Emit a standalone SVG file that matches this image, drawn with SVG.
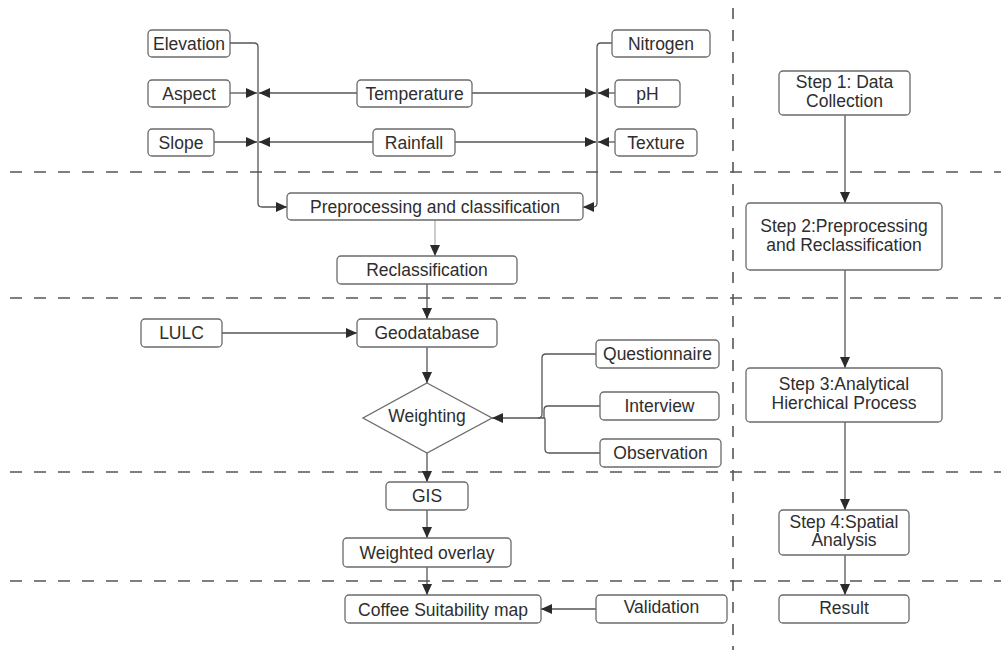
<svg xmlns="http://www.w3.org/2000/svg" width="1001" height="650" viewBox="0 0 1001 650">
<style>
.box{fill:#fff;stroke:#6b6b6b;stroke-width:1.3}
.t{font-family:"Liberation Sans",Arial,sans-serif;font-size:17.5px;fill:#2e2e2e;text-anchor:middle;dominant-baseline:central}
.c{fill:none;stroke:#555;stroke-width:1.3}
.a{marker-end:url(#ah)}
.sep{stroke:#555;stroke-width:1.6;stroke-dasharray:12 12;fill:none}
</style>
<defs>
<marker id="ah" markerUnits="userSpaceOnUse" markerWidth="12" markerHeight="10" refX="11" refY="5" orient="auto">
<path d="M0,0 L11,5 L0,10 Z" fill="#2b2b2b"/>
</marker>
</defs>
<rect width="1001" height="650" fill="#fff"/>
<g id="separators">
<line class="sep" x1="10" y1="172" x2="1001" y2="172"/>
<line class="sep" x1="10" y1="298" x2="1001" y2="298"/>
<line class="sep" x1="10" y1="472" x2="1001" y2="472"/>
<line class="sep" x1="10" y1="581" x2="1001" y2="581"/>
<line class="sep" x1="733" y1="8" x2="733" y2="650" style="stroke-dasharray:11 11"/>
</g>
<g id="connectors">
<path class="c a" d="M230,43 H254 Q258,43 258,47 V203 Q258,207 262,207 H287"/>
<path class="c a" d="M612,43 H601 Q597,43 597,47 V203 Q597,207 593,207 H583"/>
<path class="c a" d="M230,93 H257"/>
<path class="c a" d="M357,93 H259"/>
<path class="c a" d="M214,142 H257"/>
<path class="c a" d="M373,142 H259"/>
<path class="c a" d="M472,93 H596"/>
<path class="c a" d="M615,93 H598"/>
<path class="c a" d="M455,142 H596"/>
<path class="c a" d="M615,142 H598"/>
<path class="c a" d="M435,220 V256" style="stroke:#999;stroke-width:1"/>
<path class="c a" d="M427,284 V319"/>
<path class="c a" d="M222,333 H357"/>
<path class="c a" d="M427,347 V383"/>
<path class="c" d="M596,354 H546 Q542,354 542,358 V414 Q542,418 538,418"/>
<path class="c" d="M600,406 H548 Q544,406 544,410 V418"/>
<path class="c" d="M600,453 H549 Q545,453 545,449 V418"/>
<path class="c a" d="M545,418 H492"/>
<path class="c a" d="M427,453 V482"/>
<path class="c a" d="M427,510 V538"/>
<path class="c a" d="M427,567 V595"/>
<path class="c a" d="M596,609 H541"/>
<path class="c a" d="M845,115 V203"/>
<path class="c a" d="M845,270 V368"/>
<path class="c a" d="M845,422 V510"/>
<path class="c a" d="M845,555 V595"/>
</g>
<g id="elevation"><rect class="box" x="148" y="30" width="82" height="27" rx="4"/><text class="t" x="189" y="44">Elevation</text></g>
<g id="aspect"><rect class="box" x="148" y="80" width="82" height="27" rx="4"/><text class="t" x="189" y="94">Aspect</text></g>
<g id="slope"><rect class="box" x="148" y="129" width="66" height="27" rx="4"/><text class="t" x="181" y="143">Slope</text></g>
<g id="temperature"><rect class="box" x="357" y="80" width="115" height="27" rx="4"/><text class="t" x="414.5" y="94">Temperature</text></g>
<g id="rainfall"><rect class="box" x="373" y="129" width="82" height="27" rx="4"/><text class="t" x="414" y="143">Rainfall</text></g>
<g id="nitrogen"><rect class="box" x="612" y="30" width="98" height="27" rx="4"/><text class="t" x="661" y="44">Nitrogen</text></g>
<g id="ph"><rect class="box" x="615" y="80" width="65" height="27" rx="4"/><text class="t" x="647.5" y="94">pH</text></g>
<g id="texture"><rect class="box" x="615" y="129" width="82" height="27" rx="4"/><text class="t" x="656" y="143">Texture</text></g>
<g id="preprocessing"><rect class="box" x="287" y="193" width="296" height="27" rx="4"/><text class="t" x="435" y="207">Preprocessing and classification</text></g>
<g id="reclassification"><rect class="box" x="337" y="256" width="180" height="28" rx="4"/><text class="t" x="427" y="270">Reclassification</text></g>
<g id="lulc"><rect class="box" x="141" y="319" width="81" height="28" rx="4"/><text class="t" x="181.5" y="333">LULC</text></g>
<g id="geodatabase"><rect class="box" x="357" y="319" width="140" height="28" rx="4"/><text class="t" x="427" y="333">Geodatabase</text></g>
<g id="weighting"><path class="box" d="M427,383 L492,418 L427,453 L363,418 Z"/><text class="t" x="427" y="416">Weighting</text></g>
<g id="questionnaire"><rect class="box" x="596" y="340" width="123" height="28" rx="4"/><text class="t" x="657.5" y="354">Questionnaire</text></g>
<g id="interview"><rect class="box" x="600" y="392" width="119" height="28" rx="4"/><text class="t" x="659.5" y="406">Interview</text></g>
<g id="observation"><rect class="box" x="600" y="439" width="121" height="28" rx="4"/><text class="t" x="660.5" y="453">Observation</text></g>
<g id="gis"><rect class="box" x="386" y="482" width="82" height="28" rx="4"/><text class="t" x="427" y="496">GIS</text></g>
<g id="weighted-overlay"><rect class="box" x="343" y="538" width="168" height="29" rx="4"/><text class="t" x="427" y="552.5">Weighted overlay</text></g>
<g id="coffee-map"><rect class="box" x="345" y="595" width="196" height="28" rx="4"/><text class="t" x="443" y="609.5">Coffee Suitability map</text></g>
<g id="validation"><rect class="box" x="596" y="595" width="131" height="28" rx="4"/><text class="t" x="661.5" y="607">Validation</text></g>
<g id="step1"><rect class="box" x="779" y="71" width="131" height="44" rx="4"/><text class="t" x="844.5" y="82">Step 1: Data</text><text class="t" x="844.5" y="101">Collection</text></g>
<g id="step2"><rect class="box" x="746" y="203" width="196" height="67" rx="4"/><text class="t" x="844" y="226">Step 2:Preprocessing</text><text class="t" x="844" y="245">and Reclassification</text></g>
<g id="step3"><rect class="box" x="746" y="368" width="196" height="54" rx="4"/><text class="t" x="844" y="384">Step 3:Analytical</text><text class="t" x="844" y="403">Hierchical Process</text></g>
<g id="step4"><rect class="box" x="779" y="510" width="130" height="45" rx="4"/><text class="t" x="844" y="521.5">Step 4:Spatial</text><text class="t" x="844" y="540">Analysis</text></g>
<g id="result"><rect class="box" x="779" y="595" width="130" height="28" rx="4"/><text class="t" x="844" y="607.5">Result</text></g>
</svg>
